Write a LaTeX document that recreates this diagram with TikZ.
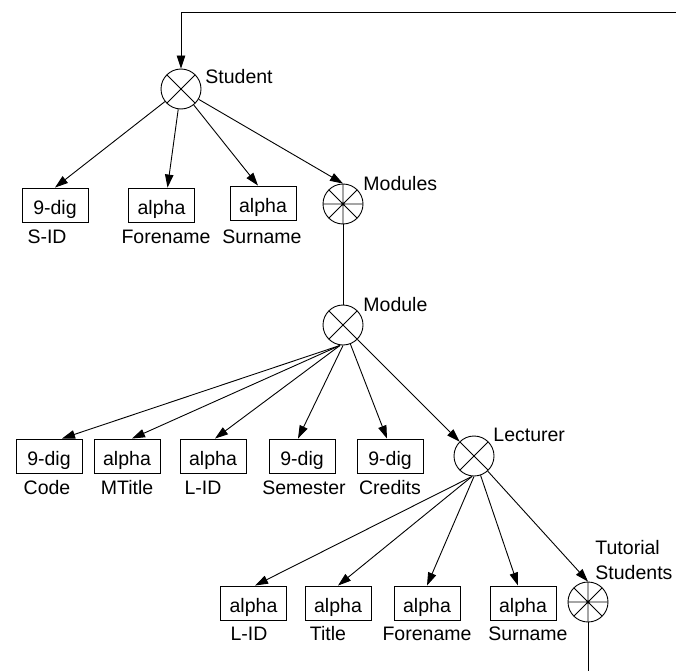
\documentclass[tikz,border=0pt]{standalone}
\usepackage{fontspec}
\setmainfont{Liberation Sans}
\usetikzlibrary{arrows.meta}

\begin{document}
\begin{tikzpicture}[
  x=1pt, y=-1pt,
  line width=0.9pt,
  every node/.style={font=\fontsize{19.5}{23}\selectfont},
  spoke/.style={insert path={
      ([shift={(#1:20pt)}]path picture bounding box.center) -- ([shift={(#1+180:20pt)}]path picture bounding box.center)}},
  % aggregate node: circle with a diagonal cross
  xnode/.style={draw, circle, minimum size=40pt, inner sep=0pt,
    path picture={\draw[spoke=45, spoke=135];}},
  % collection node: circle with eight spokes
  setnode/.style={draw, circle, minimum size=40pt, inner sep=0pt,
    path picture={\draw[spoke=0, spoke=45, spoke=90, spoke=135];}},
  valbox/.style={draw, rectangle, minimum width=66pt, minimum height=34pt, inner sep=0pt,
    text height=18pt, text depth=0pt},
  tag/.style={anchor=base, inner sep=0pt},
  sidetag/.style={anchor=base west, inner sep=0pt},
  link/.style={-{Triangle[length=13pt,width=8.5pt]}},
]
\useasboundingbox (0,0) rectangle (676,671);

% ---------- Student ----------
\node[xnode] (student) at (181,89) {};
\node[sidetag] (studentT) at (205,84) {Student};
\coordinate (loopR) at (676,12);
\coordinate (loopL) at (181,12);
\draw[link] (loopR) -- (loopL) -- (student);

\node[valbox] (sid) at (55,205) {9-dig};
\node[valbox] (sfore) at (161.5,205) {alpha};
\node[valbox] (ssur) at (263,203) {alpha};
\node[setnode] (modules) at (343,204) {};
\node[sidetag] (modulesT) at (363,190) {Modules};

\node[tag] (sidT) at (47,243) {S-ID};
\node[tag] (sforeT) at (166,243) {Forename};
\node[tag] (ssurT) at (262,243) {Surname};

\draw[link] (student) -- (sid.north);
\draw[link] (student) -- ([xshift=6pt]sfore.north);
\draw[link] (student) -- ([xshift=-5pt]ssur.north);
\draw[link] (student) -- (modules.north);

% ---------- Module ----------
\node[xnode] (module) at (343,325) {};
\node[sidetag] (moduleT) at (363,311) {Module};
\draw (modules) -- (module);

\node[valbox] (code) at (49,456) {9-dig};
\node[valbox] (mtitle) at (127,456) {alpha};
\node[valbox] (mlid) at (213,456) {alpha};
\node[valbox] (sem) at (302,456) {9-dig};
\node[valbox] (cred) at (390,456) {9-dig};
\node[xnode] (lecturer) at (474,456) {};
\node[sidetag] (lecturerT) at (493,441) {Lecturer};

\node[tag] (codeT) at (47,494) {Code};
\node[tag] (mtitleT) at (127,494) {MTitle};
\node[tag] (mlidT) at (203,494) {L-ID};
\node[tag] (semT) at (304,494) {Semester};
\node[tag] (credT) at (390,494) {Credits};

\draw[link] ([xshift=-3pt]module.south) -- ([xshift=13pt]code.north);
\draw[link] ([xshift=-3pt]module.south) -- ([xshift=5pt]mtitle.north);
\draw[link] ([xshift=-3pt]module.south) -- ([xshift=2pt]mlid.north);
\draw[link] (module.south) -- ([xshift=-4pt]sem.north);
\draw[link] (module) -- ([xshift=-3pt]cred.north);
\draw[link] (module) -- (lecturer);

% ---------- Lecturer ----------
\node[valbox] (llid) at (253.5,603) {alpha};
\node[valbox] (ltitle) at (338,603) {alpha};
\node[valbox] (lfore) at (427,603) {alpha};
\node[valbox] (lsur) at (523,603) {alpha};
\node[setnode] (tut) at (588,602) {};
\node[sidetag] (tutT1) at (595,554) {Tutorial};
\node[sidetag] (tutT2) at (595,579) {Students};

\node[tag] (llidT) at (249,640) {L-ID};
\node[tag] (ltitleT) at (328,640) {Title};
\node[tag] (lforeT) at (427,640) {Forename};
\node[tag] (lsurT) at (528,640) {Surname};

\draw[link] ([xshift=-2pt]lecturer.south) -- ([xshift=1.5pt]llid.north);
\draw[link] ([xshift=-2pt]lecturer.south) -- (ltitle.north);
\draw[link] (lecturer.south) -- (lfore.north);
\draw[link] (lecturer) -- ([xshift=-5pt]lsur.north);
\draw[link] (lecturer) -- (tut.north);

\coordinate (tutEnd) at (588,671);
\draw (tut) -- (tutEnd);
\end{tikzpicture}
\end{document}
